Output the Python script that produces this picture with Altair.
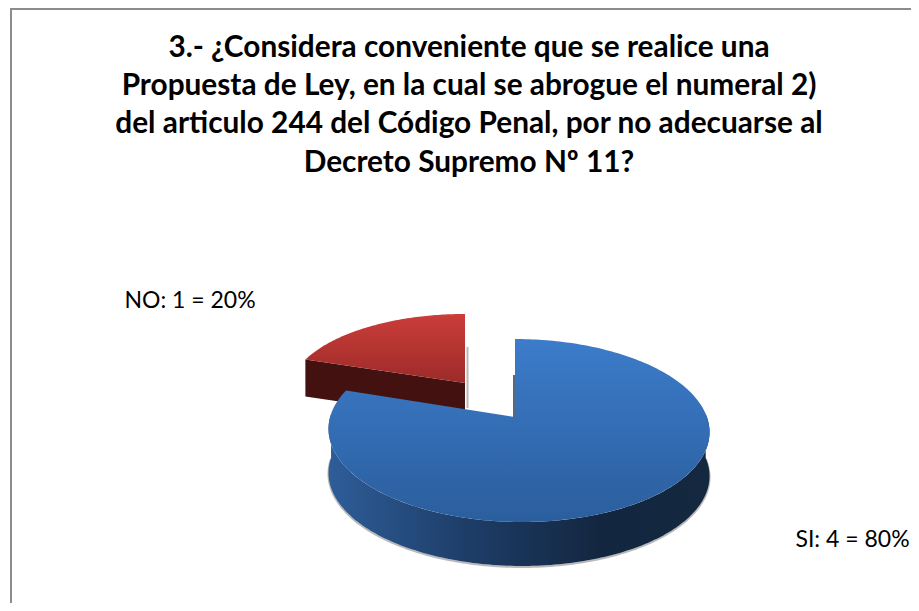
import altair as alt
import numpy as np
import pandas as pd

TITLE_LINES = [
    "3.- ¿Considera conveniente que se realice una",
    "Propuesta de Ley, en la cual se abrogue el numeral 2)",
    "del articulo 244 del Código Penal, por no adecuarse al",
    "Decreto Supremo Nº 11?",
]
CATEGORIES = ["SI", "NO"]
COUNTS = [4, 1]

FONT = "Lato"
TOTAL = sum(COUNTS)
SHARES = [c / TOTAL for c in COUNTS]
LABELS = [f"{k}: {n} = {round(s * 100)}%" for k, n, s in zip(CATEGORIES, COUNTS, SHARES)]

# 3-D projection of a slice: tilt + perspective, as drawn by the original
P = 0.1475
W, H = 903, 595


def rim(theta, cx, cy, rx, ry, skew):
    z = np.cos(theta)
    k = 1 + P * z
    return cx + rx * np.sin(theta) / k + skew * (1 - z), cy - ry * z / k


def frame(xs, ys):
    return pd.DataFrame({"x": xs, "y": ys, "i": range(len(xs))})


X = alt.X("x:Q", scale=alt.Scale(domain=[8, 8 + W], range=[0, W], nice=False, zero=False), axis=None)
Y = alt.Y("y:Q", scale=alt.Scale(domain=[8, 8 + H], range=[0, H], nice=False, zero=False), axis=None)


def poly(df, fill, **kw):
    return alt.Chart(df).mark_line(fill=fill, stroke="transparent", strokeWidth=0, clip=False, **kw).encode(
        x=X, y=Y, order="i:Q"
    )


def grad_v(a, b):
    return alt.Gradient(gradient="linear", x1=0, y1=0, x2=0, y2=1,
                        stops=[alt.GradientStop(offset=0, color=a), alt.GradientStop(offset=1, color=b)])


# ----- SI slice
si_sweep = 2 * np.pi * SHARES[0]
B = dict(cx=515, cy=417, rx=188.4, ry=89.5, skew=3.5)
B_DEPTH = 44
t = np.linspace(0, si_sweep, 240)
bx, by = rim(t, **B)
blue_top = frame(np.r_[B["cx"], bx], np.r_[B["cy"], by])

t_w = np.linspace(np.radians(88), np.radians(272), 160)
wx, wy = rim(t_w, **B)
blue_wall = frame(np.r_[wx, wx[::-1]], np.r_[wy, wy[::-1] + B_DEPTH])
blue_wall_grad = alt.Gradient(
    gradient="linear", x1=0, y1=0, x2=1, y2=0,
    stops=[
        alt.GradientStop(offset=0, color="#2e5d98"),
        alt.GradientStop(offset=0.38, color="#1d3c66"),
        alt.GradientStop(offset=0.72, color="#13263f"),
        alt.GradientStop(offset=1, color="#14283f"),
    ],
)
shadow_arc = frame(wx, wy + B_DEPTH + 1)
blue_cut = frame([B["cx"] - 1, B["cx"] - 1], [B["cy"], B["cy"] - 42])

# ----- NO slice
R = dict(cx=465, cy=383, rx=177, ry=79.2, skew=2.0)
R_DEPTH = 37
t = np.linspace(si_sweep, 2 * np.pi, 80)
rx_, ry_ = rim(t, **R)
red_top = frame(np.r_[R["cx"], rx_], np.r_[R["cy"], ry_])
red_wall = frame(
    [rx_[0], R["cx"], R["cx"], rx_[0]],
    [ry_[0], R["cy"], R["cy"] + R_DEPTH, ry_[0] + R_DEPTH],
)
red_cut = frame([R["cx"] + 2.5, R["cx"] + 2.5], [R["cy"] - 36, R["cy"] + 25])

# ----- text
title_df = pd.DataFrame({"t": TITLE_LINES, "x": [469] * 4, "y": [56.7, 95, 133.3, 172]})
label_df = pd.DataFrame({"t": LABELS, "x": [852.5, 190], "y": [547.3, 307.7]})

border = alt.Chart(pd.DataFrame({"a": [0]}))
left_border = border.mark_rule(color="#8c8c8c", strokeWidth=2).encode(
    x=alt.value(3), y=alt.value(0), y2=alt.value(H))
top_border = border.mark_rule(color="#8c8c8c", strokeWidth=2).encode(
    x=alt.value(3), x2=alt.value(W), y=alt.value(1))

title = alt.Chart(title_df).mark_text(
    font=FONT, fontWeight="bold", fontSize=29.8, color="#000000", align="center", baseline="alphabetic"
).encode(x=X, y=Y, text="t:N")
labels = alt.Chart(label_df).mark_text(
    font=FONT, fontSize=23, color="#000000", align="center", baseline="alphabetic"
).encode(x=X, y=Y, text="t:N")


def soft(df, color, width, opacity):
    return alt.Chart(df).mark_line(color=color, strokeWidth=width, opacity=opacity).encode(x=X, y=Y, order="i:Q")


chart = alt.layer(
    left_border,
    top_border,
    title,
    labels,
    soft(red_cut, "#9a9a9a", 2, 0.7),
    poly(red_wall, "#431110"),
    poly(red_top, grad_v("#cb3d39", "#9c2b29")),
    soft(blue_cut, "#22364f", 2, 0.75),
    soft(shadow_arc, "#8a8a8a", 2, 0.6),
    poly(blue_wall, blue_wall_grad),
    poly(blue_top, grad_v("#3c7cca", "#2b5e9d")),
).properties(
    width=W,
    height=H,
    padding=0,
    autosize=alt.AutoSizeParams(type="none"),
).configure_view(stroke=None)

chart.save("out.html", embed_options={"renderer": "svg", "actions": False})
